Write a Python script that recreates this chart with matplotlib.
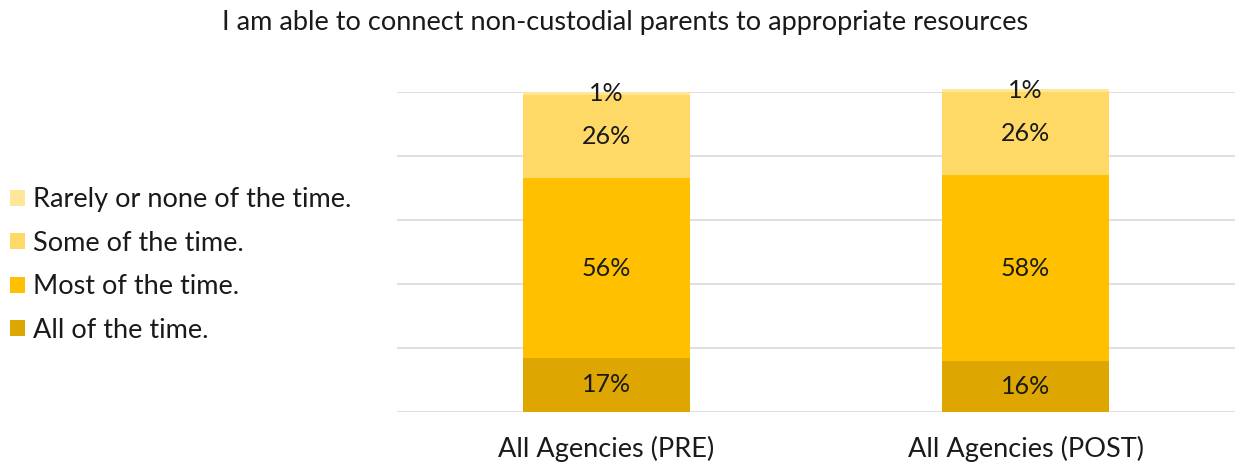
import matplotlib.pyplot as plt
import numpy as np

plt.rcParams['font.family'] = ['Lato', 'DejaVu Sans']

# survey responses, percent of respondents
groups = ['All Agencies (PRE)', 'All Agencies (POST)']
categories = ['All of the time.', 'Most of the time.', 'Some of the time.', 'Rarely or none of the time.']
all_time = [17, 16]
most_time = [56, 58]
some_time = [26, 26]
rarely = [1, 1]
colors = ['#DDA600', '#FFC000', '#FFD966', '#FFE699']

series = [all_time, most_time, some_time, rarely]

fig = plt.figure(figsize=(12.35, 4.65), dpi=100)
ax = fig.add_axes([0.3215, 0.114, 0.6785, 0.688])

x = np.arange(len(groups))
bottom = np.zeros(len(groups))
handles = []
for vals, lab, col in zip(series, categories, colors):
    vals = np.array(vals, dtype=float)
    b = ax.bar(x, vals, 0.4, bottom=bottom, color=col, label=lab, zorder=2, clip_on=False)
    handles.append(b)
    for xi, v, bt in zip(x, vals, bottom):
        ax.text(xi, bt + v / 2, f'{int(v)}%', ha='center', va='center',
                fontsize=18, color='#1a1a1a', zorder=3)
    bottom += vals

ax.set_xlim(-0.5, 1.5)
ax.set_ylim(0, 100)
ax.set_yticks(np.arange(0, 101, 20))
ax.yaxis.grid(True, color='#d9d9d9', linewidth=1.2, zorder=0)
ax.set_yticklabels([])
ax.tick_params(axis='y', length=0)
ax.tick_params(axis='x', length=0, pad=17, labelsize=19.5, labelcolor='#1a1a1a')
ax.set_xticks(x)
ax.set_xticklabels(groups)
for s in ax.spines.values():
    s.set_visible(False)

fig.text(0.506, 0.952, 'I am able to connect non-custodial parents to appropriate resources',
         ha='center', va='center', fontsize=19.5, color='#1a1a1a')

fig.legend(handles[::-1], categories[::-1], loc='center left', bbox_to_anchor=(-0.007, 0.43),
           frameon=False, fontsize=19.5, handlelength=0.55, handleheight=0.55,
           handletextpad=0.3, labelspacing=0.68, borderaxespad=0.3, labelcolor='#1a1a1a')

fig.savefig('out.png', dpi=100)
